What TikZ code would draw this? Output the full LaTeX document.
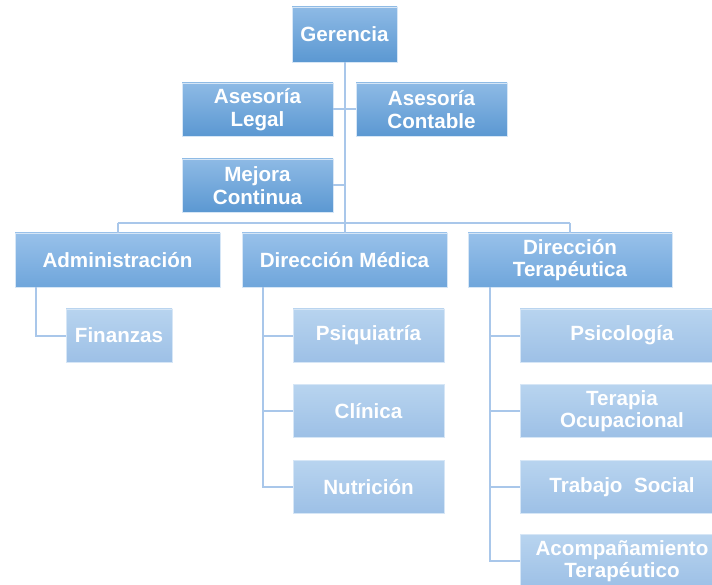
\documentclass[tikz,border=0pt]{standalone}
\usepackage{fontspec}
\setmainfont{Liberation Sans}
\definecolor{aTop}{HTML}{8EBAE5}
\definecolor{aBot}{HTML}{5B98D2}
\definecolor{bTop}{HTML}{98C1EA}
\definecolor{bBot}{HTML}{6FA6DB}
\definecolor{cTop}{HTML}{B8D4EF}
\definecolor{cBot}{HTML}{9DC0E6}
\definecolor{lineC}{HTML}{A9C7EA}
\definecolor{edgeC}{HTML}{D6E6F6}
\begin{document}
\begin{tikzpicture}[x=1pt,y=-1pt,
  base/.style={rectangle, draw=edgeC, line width=0.6pt, text=white, inner sep=0pt,
    align=center, font=\bfseries\fontsize{20.6}{22.5}\selectfont},
  lvA/.style={base, top color=aTop, bottom color=aBot},
  lvB/.style={base, top color=bTop, bottom color=bBot},
  lvC/.style={base, top color=cTop, bottom color=cBot},
  sz/.style 2 args={minimum width=#1pt, minimum height=#2pt},
  conn/.style={draw=lineC, line width=2pt}]
\useasboundingbox (0,0) rectangle (712,585);
\clip (0,0) rectangle (712,585);
\fill[white] (0,0) rectangle (712,585);
% top group
\node[lvA, sz={105}{55}] (ger) at (344.5,34.5) {Gerencia};
\node[lvA, sz={151}{53}] (leg) at (257.5,109.5) {Asesoría\\Legal};
\node[lvA, sz={151}{53}] (con) at (431.5,109.5) {Asesoría\\Contable};
\node[lvA, sz={151}{53}] (mej) at (257.5,185.5) {Mejora\\Continua};
% second level
\node[lvB, sz={205}{54}] (adm) at (117.5,260) {Administración};
\node[lvB, sz={205}{54}] (med) at (344.5,260) {Dirección Médica};
\node[lvB, sz={204}{54}] (ter) at (570,260) {Dirección\\Terapéutica};
% children
\node[lvC, sz={106}{53}] (fin) at (119,335.5) {Finanzas};
\node[lvC, sz={151}{53}] (psq) at (368.5,335.5) {Psiquiatría};
\node[lvC, sz={151}{53}] (cli) at (368.5,411) {Clínica};
\node[lvC, sz={151}{53}] (nut) at (368.5,487) {Nutrición};
\node[lvC, sz={204}{53}] (psi) at (622,335.5) {Psicología};
\node[lvC, sz={204}{53}] (ocu) at (622,411) {Terapia\\Ocupacional};
\node[lvC, sz={204}{53}] (tra) at (622,487) {Trabajo\ \ Social};
\node[lvC, sz={204}{53}] (aco) at (622,561) {Acompañamiento\\Terapéutico};
% connectors
\coordinate (bus) at (0,223);
\draw[conn] (ger.south) -- (ger.south |- bus);
\draw[conn] (leg.east) -- (con.west);
\draw[conn] (mej.east) -- (mej.east -| ger.south);
\draw[conn] (adm.north |- bus) -- (ter.north |- bus);
\draw[conn] (adm.north |- bus) -- (adm.north);
\draw[conn] (med.north |- bus) -- (med.north);
\draw[conn] (ter.north |- bus) -- (ter.north);
\draw[conn] ([xshift=21pt]adm.south west) |- (fin.west);
\draw[conn] ([xshift=21pt]med.south west) |- (psq.west);
\draw[conn] ([xshift=21pt]med.south west) |- (cli.west);
\draw[conn] ([xshift=21pt]med.south west) |- (nut.west);
\draw[conn] ([xshift=22pt]ter.south west) |- (psi.west);
\draw[conn] ([xshift=22pt]ter.south west) |- (ocu.west);
\draw[conn] ([xshift=22pt]ter.south west) |- (tra.west);
\draw[conn] ([xshift=22pt]ter.south west) |- (aco.west);
\end{tikzpicture}
\end{document}
